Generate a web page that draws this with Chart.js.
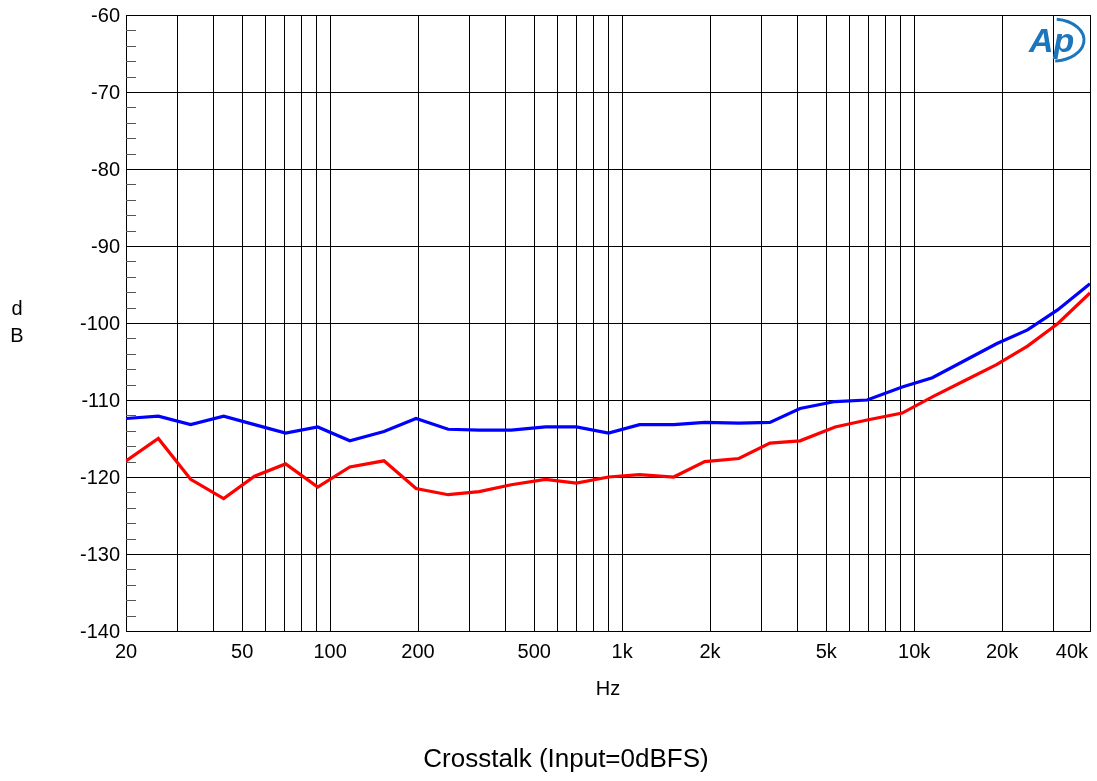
<!DOCTYPE html>
<html>
<head>
<meta charset="utf-8">
<script src="https://cdn.jsdelivr.net/npm/chart.js@4/dist/chart.umd.min.js"></script>
<style>
html,body{margin:0;padding:0;background:#fff;}
#wrap{width:1097px;height:781px;position:relative;}
</style>
</head>
<body>
<div id="wrap"><canvas id="c" width="1097" height="781"></canvas></div>
<script>
// ---- data ----
const freqs = [20, 25.8, 33.3, 43.2, 55.1, 70.4, 90.7, 116.8, 152.9, 196.9, 253.6, 323.9, 417, 546, 697, 898, 1147, 1501, 1918, 2510, 3206, 4064, 5361, 6903, 9100, 11540, 14860, 19140, 24440, 30980, 40000];
const blueDb = [-112.4, -112.1, -113.2, -112.1, -113.2, -114.3, -113.5, -115.3, -114.1, -112.4, -113.8, -113.9, -113.9, -113.5, -113.5, -114.3, -113.2, -113.2, -112.9, -113.0, -112.9, -111.1, -110.2, -110.0, -108.3, -107.1, -104.9, -102.7, -100.9, -98.3, -94.9];
const redDb = [-117.9, -115.0, -120.3, -122.8, -119.9, -118.3, -121.3, -118.7, -117.9, -121.5, -122.3, -121.9, -121.0, -120.3, -120.8, -120.0, -119.7, -120.0, -118.0, -117.6, -115.6, -115.3, -113.5, -112.6, -111.7, -109.6, -107.5, -105.4, -103.0, -100.1, -96.1];
const xGridValues = [20,30,40,50,60,70,80,90,100,200,300,400,500,600,700,800,900,1000,2000,3000,4000,5000,6000,7000,8000,9000,10000,20000,30000,40000];
const xTickValues = [20, 50, 100, 200, 500, 1000, 2000, 5000, 10000, 20000, 40000];
const xTickLabels = ['20', '50', '100', '200', '500', '1k', '2k', '5k', '10k', '20k', '40k'];
const yTickValues = [-140, -130, -120, -110, -100, -90, -80, -70, -60];
const yTickLabels = ['-140', '-130', '-120', '-110', '-100', '-90', '-80', '-70', '-60'];
const yMinorValues = [];
for (let v = -138; v < -60; v += 2) { if (v % 10 !== 0) yMinorValues.push(v); }
const xTitle = 'Hz';
const yTitle = ['d', 'B'];
const chartTitle = 'Crosstalk (Input=0dBFS)';

const FONT = '"Liberation Sans", Arial, sans-serif';

const textPlugin = {
  id: 'apText',
  afterDraw(chart) {
    const ctx = chart.ctx;
    const xs = chart.scales.x, ys = chart.scales.y;
    const area = chart.chartArea;
    ctx.save();
    // minor y ticks
    ctx.strokeStyle = '#555';
    ctx.lineWidth = 1;
    yMinorValues.forEach(v => {
      const y = Math.round(ys.getPixelForValue(v)) + 0.5;
      ctx.beginPath();
      ctx.moveTo(area.left, y);
      ctx.lineTo(area.left + 10, y);
      ctx.stroke();
    });
    // y tick labels
    ctx.fillStyle = '#000';
    ctx.font = '20px ' + FONT;
    ctx.textAlign = 'right';
    ctx.textBaseline = 'middle';
    yTickValues.forEach((v, i) => {
      ctx.fillText(yTickLabels[i], area.left - 6, ys.getPixelForValue(v) + 1);
    });
    // x tick labels
    ctx.textAlign = 'center';
    ctx.textBaseline = 'middle';
    xTickValues.forEach((v, i) => {
      let x = xs.getPixelForValue(v);
      const w = ctx.measureText(xTickLabels[i]).width;
      if (x + w / 2 > area.right - 2) x = area.right - 2 - w / 2;
      ctx.fillText(xTickLabels[i], x, area.bottom + 21);
    });
    // axis titles
    ctx.fillText(xTitle, 608, 689);
    ctx.fillText(yTitle[0], 17, 309);
    ctx.fillText(yTitle[1], 17, 336);
    // chart title
    ctx.font = '26px ' + FONT;
    ctx.fillText(chartTitle, 566, 760);
    // AP logo
    ctx.fillStyle = '#1b76bc';
    ctx.strokeStyle = '#1b76bc';
    ctx.font = 'italic bold 34px ' + FONT;
    ctx.textAlign = 'left';
    ctx.textBaseline = 'alphabetic';
    ctx.fillText('Ap', 1029, 52);
    ctx.lineWidth = 3;
    ctx.beginPath();
    ctx.ellipse(1053, 40, 31, 21, 0, -1.45, 1.5);
    ctx.stroke();
    ctx.restore();
  }
};

const ctx = document.getElementById('c').getContext('2d');
new Chart(ctx, {
  type: 'line',
  data: {
    datasets: [
      {
        label: 'Ch2',
        data: freqs.map((f, i) => ({ x: f, y: redDb[i] })),
        borderColor: '#ff0000',
        borderWidth: 3.2,
        pointRadius: 0,
        tension: 0,
        fill: false
      },
      {
        label: 'Ch1',
        data: freqs.map((f, i) => ({ x: f, y: blueDb[i] })),
        borderColor: '#0000ff',
        borderWidth: 3.2,
        pointRadius: 0,
        tension: 0,
        fill: false
      }
    ]
  },
  options: {
    responsive: false,
    animation: false,
    devicePixelRatio: 1,
    layout: { padding: { left: 126, top: 15, right: 7, bottom: 150 } },
    plugins: { legend: { display: false }, tooltip: { enabled: false }, title: { display: false } },
    scales: {
      x: {
        type: 'logarithmic',
        min: 20,
        max: 40000,
        afterBuildTicks: (s) => { s.ticks = xGridValues.map(v => ({ value: v })); },
        ticks: { display: false },
        grid: { color: '#000', lineWidth: 1, drawTicks: false },
        border: { display: true, color: '#000', width: 1 }
      },
      y: {
        type: 'linear',
        min: -140,
        max: -60,
        afterBuildTicks: (s) => { s.ticks = yTickValues.map(v => ({ value: v })); },
        ticks: { display: false },
        grid: { color: '#000', lineWidth: 1, drawTicks: false },
        border: { display: true, color: '#000', width: 1 }
      }
    }
  },
  plugins: [textPlugin]
});
</script>
</body>
</html>
